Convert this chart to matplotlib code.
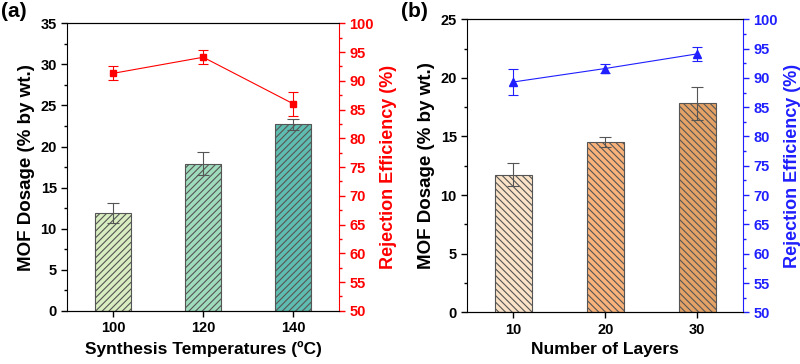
import matplotlib
matplotlib.use("Agg")
import matplotlib.pyplot as plt
import numpy as np

plt.rcParams['font.family'] = ['Liberation Sans', 'DejaVu Sans']
plt.rcParams['font.weight'] = 'bold'
plt.rcParams['hatch.linewidth'] = 0.8
plt.rcParams['hatch.color'] = '#333333'

# panel (a) data
temps = ['100', '120', '140']
dose_a = [11.9, 17.9, 22.7]
dose_a_err = [1.2, 1.4, 0.65]
rej_a = [91.3, 94.1, 86.0]
rej_a_err = [1.2, 1.2, 2.1]
colors_a = ['#d8edc0', '#9fdcbc', '#5fbcb0']

# panel (b) data
layers = ['10', '20', '30']
dose_b = [11.75, 14.5, 17.85]
dose_b_err = [1.0, 0.43, 1.4]
rej_b = [89.3, 91.6, 94.1]
rej_b_err = [2.3, 0.8, 1.2]
colors_b = ['#fbe3c8', '#f9b27a', '#e4a266']


def panel(fig, rect, cats, dose, dose_err, rej, rej_err, colors, hatch,
          ymax, xlabel, color, marker, msize, label, xlim):
    ax = fig.add_axes(rect)
    x = np.arange(len(cats))
    ax.bar(x, dose, width=0.4, color=colors, edgecolor='#555555',
           linewidth=0.8, hatch=hatch, zorder=2)
    ax.errorbar(x, dose, yerr=dose_err, fmt='none', ecolor='#555555',
                elinewidth=0.8, capsize=4.5, capthick=0.8, zorder=3)
    ax.set_xlim(*xlim)
    ax.set_ylim(0, ymax)
    ax.set_yticks(np.arange(0, ymax + 1, 5))
    ax.set_yticks(np.arange(2.5, ymax, 5), minor=True)
    ax.set_xticks(x)
    ax.set_xticklabels(cats)
    ax.tick_params(axis='both', labelsize=10.5, width=1, length=4, direction='out')
    ax.tick_params(axis='y', which='minor', length=2.5, width=1)
    ax.set_ylabel('MOF Dosage (% by wt.)', fontsize=13.5, fontweight='bold')
    ax.set_xlabel(xlabel, fontsize=12.5, fontweight='bold')
    ax.spines['right'].set_visible(False)

    ax2 = ax.twinx()
    ax2.errorbar(x, rej, yerr=rej_err, color=color, marker=marker,
                 markersize=msize, linewidth=0.8, elinewidth=0.8, capsize=3.5,
                 capthick=0.8, zorder=4)
    ax2.set_ylim(50, 100)
    ax2.set_yticks(np.arange(50, 101, 5))
    ax2.set_yticks(np.arange(52.5, 100, 5), minor=True)
    ax2.tick_params(axis='y', colors=color, labelsize=10.5, width=1, length=4)
    ax2.tick_params(axis='y', which='minor', length=2.5, width=1, colors=color)
    ax2.spines['right'].set_color(color)
    ax2.spines['left'].set_visible(False)
    ax2.set_ylabel('Rejection Efficiency (%)', fontsize=13,
                   fontweight='bold', color=color)
    fig.text(rect[0] - 0.083, 0.995, label, fontsize=15, fontweight='bold',
             va='top', ha='left')
    return ax, ax2


fig = plt.figure(figsize=(8, 3.64), dpi=100)

panel(fig, [0.084, 0.146, 0.340, 0.790], temps, dose_a, dose_a_err,
      rej_a, rej_a_err, colors_a, '/////', 35,
      'Synthesis Temperatures (ºC)', '#ff0000', 's', 5, '(a)', (-0.51, 2.51))

panel(fig, [0.584, 0.142, 0.345, 0.805], layers, dose_b, dose_b_err,
      rej_b, rej_b_err, colors_b, '\\\\\\\\\\', 25,
      'Number of Layers', '#1f1fff', '^', 5.5, '(b)', (-0.5, 2.5))

fig.savefig('out.png', dpi=100)
